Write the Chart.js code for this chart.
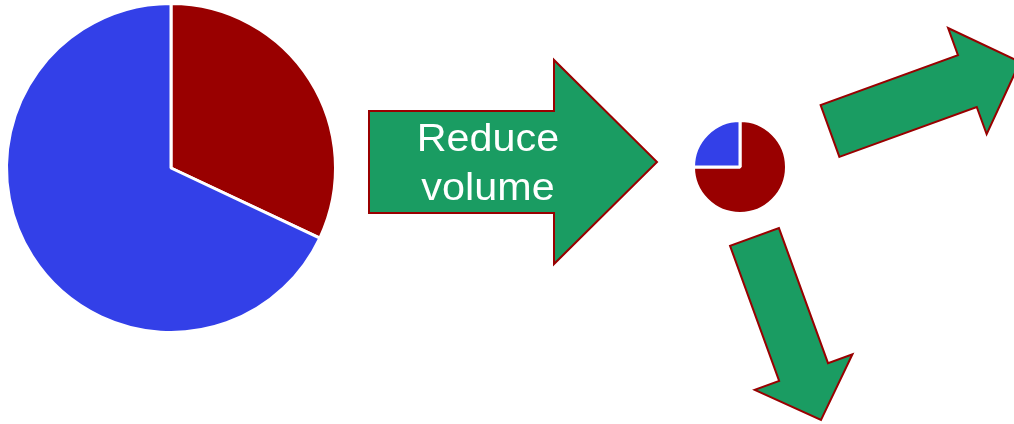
<!DOCTYPE html>
<html>
<head>
<meta charset="utf-8">
<script src="https://cdn.jsdelivr.net/npm/chart.js@4.4.1/dist/chart.umd.min.js"></script>
<style>
  html, body { margin: 0; padding: 0; background: #ffffff; }
  #stage { position: relative; width: 1014px; height: 424px; overflow: hidden; }
  #mainWrap { position: absolute; left: 0; top: 0; width: 1014px; height: 424px; }
  #smallWrap { position: absolute; left: 690px; top: 117px; width: 100px; height: 100px; }
  .label {
    position: absolute; left: 398px; width: 180px; text-align: center;
    font-family: "Liberation Sans", Arial, sans-serif; font-size: 39px;
    color: #ffffff; line-height: 1;
    transform: scaleX(1.06); transform-origin: 50% 50%;
  }
</style>
</head>
<body>
<div id="stage">
  <div id="mainWrap"><canvas id="mainPie"></canvas></div>
  <div id="smallWrap"><canvas id="smallPie"></canvas></div>
  <div class="label" style="top:118px;">Reduce</div>
  <div class="label" style="top:167px;">volume</div>
</div>
<script>
// Share of the two parts before and after the reduction
const categories = ['Part A', 'Part B'];
const beforeValues = [32, 68];
const afterValues = [75, 25];
const sliceColors = ['#990000', '#3340E8'];

const GREEN = '#1A9C62';
const OUTLINE = '#990000';

// Block arrows: tail centre, tip, shaft width, head width, head length
const arrows = [
  { tail: [369, 162], tip: [657, 162], shaft: 102, head: 204, headLen: 103 },
  { tail: [830, 131], tip: [1020, 62], shaft: 55, head: 113, headLen: 56 },
  { tail: [754.5, 237], tip: [821, 420], shaft: 52, head: 104, headLen: 51 }
];

function drawArrow(ctx, a) {
  const dx = a.tip[0] - a.tail[0], dy = a.tip[1] - a.tail[1];
  const len = Math.hypot(dx, dy);
  const ux = dx / len, uy = dy / len;      // along the arrow
  const nx = -uy, ny = ux;                 // across the arrow
  const bx = a.tip[0] - ux * a.headLen, by = a.tip[1] - uy * a.headLen;
  const s = a.shaft / 2, h = a.head / 2;
  const pts = [
    [a.tail[0] + nx * s, a.tail[1] + ny * s],
    [bx + nx * s, by + ny * s],
    [bx + nx * h, by + ny * h],
    [a.tip[0], a.tip[1]],
    [bx - nx * h, by - ny * h],
    [bx - nx * s, by - ny * s],
    [a.tail[0] - nx * s, a.tail[1] - ny * s]
  ];
  ctx.beginPath();
  pts.forEach((p, i) => i ? ctx.lineTo(p[0], p[1]) : ctx.moveTo(p[0], p[1]));
  ctx.closePath();
  ctx.fillStyle = GREEN;
  ctx.fill();
  ctx.lineWidth = 2;
  ctx.lineJoin = 'miter';
  ctx.strokeStyle = OUTLINE;
  ctx.stroke();
}

const arrowPlugin = {
  id: 'blockArrows',
  afterDraw(chart) {
    const ctx = chart.ctx;
    ctx.save();
    arrows.forEach(a => drawArrow(ctx, a));
    ctx.restore();
  }
};

const common = {
  responsive: true,
  maintainAspectRatio: false,
  animation: false,
  events: [],
  plugins: { legend: { display: false }, tooltip: { enabled: false } }
};

new Chart(document.getElementById('mainPie'), {
  type: 'pie',
  data: {
    labels: categories,
    datasets: [{
      data: beforeValues,
      backgroundColor: sliceColors,
      borderColor: '#ffffff',
      borderWidth: 3,
      hoverOffset: 0
    }]
  },
  options: Object.assign({}, common, {
    radius: 164.5,
    layout: { padding: { left: 8, top: 5, right: 680, bottom: 93 } }
  }),
  plugins: [arrowPlugin]
});

new Chart(document.getElementById('smallPie'), {
  type: 'pie',
  data: {
    labels: categories,
    datasets: [{
      data: afterValues,
      backgroundColor: sliceColors,
      borderColor: '#ffffff',
      borderWidth: 3,
      hoverOffset: 0
    }]
  },
  options: Object.assign({}, common, {
    radius: 46.5,
    layout: { padding: 0 }
  })
});
</script>
</body>
</html>
